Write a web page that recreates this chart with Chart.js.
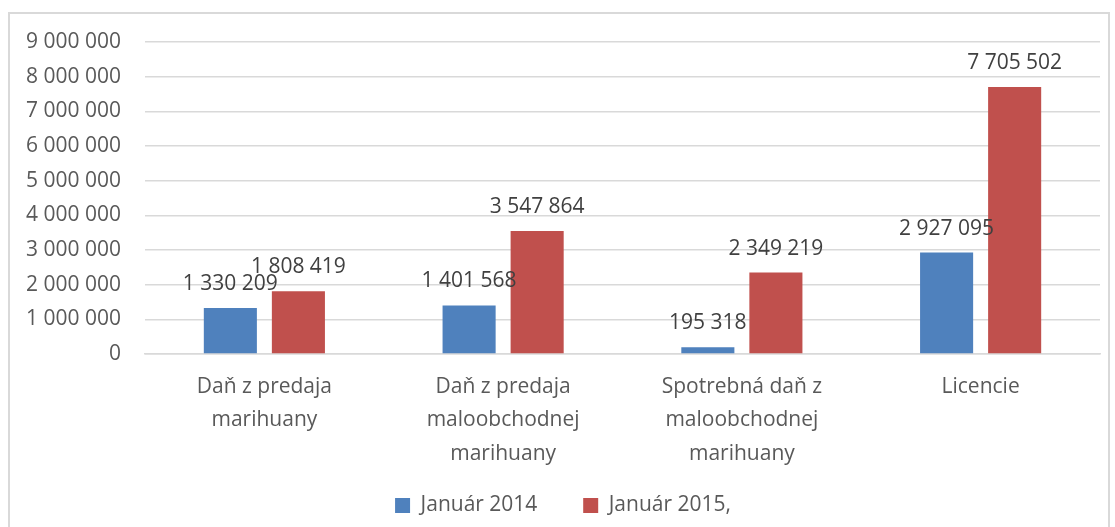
<!DOCTYPE html>
<html>
<head>
<meta charset="utf-8">
<script src="https://cdn.jsdelivr.net/npm/chart.js@4/dist/chart.umd.min.js"></script>
<style>
  body { margin: 0; background: #fff; }
  #frame { position: absolute; left: 8px; top: 12px; width: 1098px; height: 530px; border: 2px solid #d9d9d9; }
  #wrap { position: absolute; left: 0; top: 0; width: 1115px; height: 527px; }
</style>
</head>
<body>
<div id="frame"></div>
<div id="wrap"><canvas id="revenueChart"></canvas></div>
<script>
const categories = [
  ["Daň z predaja", "marihuany"],
  ["Daň z predaja", "maloobchodnej", "marihuany"],
  ["Spotrebná daň z", "maloobchodnej", "marihuany"],
  ["Licencie"]
];
const jan2014 = [1330209, 1401568, 195318, 2927095];
const jan2015 = [1808419, 3547864, 2349219, 7705502];
const seriesNames = ["Január 2014", "Január 2015,"];

const FONT = "'Open Sans', sans-serif";

function spaced(v) {
  return String(v).replace(/\B(?=(\d{3})+(?!\d))/g, " ");
}

// draw the value above each bar
const barLabels = {
  id: "barLabels",
  afterDatasetsDraw(chart) {
    const ctx = chart.ctx;
    ctx.save();
    ctx.font = "21px " + FONT;
    ctx.fillStyle = "#404040";
    ctx.textAlign = "center";
    ctx.textBaseline = "middle";
    chart.data.datasets.forEach(function (ds, i) {
      chart.getDatasetMeta(i).data.forEach(function (bar, j) {
        ctx.fillText(spaced(ds.data[j]), bar.x, bar.y - 24);
      });
    });
    ctx.restore();
  }
};

const ctx = document.getElementById("revenueChart").getContext("2d");
new Chart(ctx, {
  type: "bar",
  data: {
    labels: categories,
    datasets: [
      { label: seriesNames[0], data: jan2014, backgroundColor: "#4f81bd" },
      { label: seriesNames[1], data: jan2015, backgroundColor: "#c0504d" }
    ]
  },
  options: {
    responsive: true,
    maintainAspectRatio: false,
    animation: false,
    datasets: { bar: { barPercentage: 0.78, categoryPercentage: 0.57 } },
    layout: { padding: { top: 42, right: 15, left: 26, bottom: 1 } },
    plugins: {
      tooltip: { enabled: false },
      legend: {
        position: "bottom",
        labels: {
          font: { family: FONT, size: 21 },
          color: "#595959",
          boxWidth: 15,
          boxHeight: 15,
          padding: 24,
          generateLabels: function (chart) {
            const items = Chart.defaults.plugins.legend.labels.generateLabels(chart);
            // widen the gap between the two entries
            items[0].text = items[0].text + "    ";
            return items;
          }
        }
      }
    },
    scales: {
      y: {
        min: 0,
        max: 9000000,
        ticks: {
          stepSize: 1000000,
          padding: 24,
          color: "#595959",
          font: { family: FONT, size: 21 },
          callback: function (v) { return spaced(v); }
        },
        grid: { color: "#d9d9d9", lineWidth: 1.5, drawTicks: false },
        border: { display: false },
        afterFit: function (s) { s.width = 119; }
      },
      x: {
        ticks: {
          padding: 16,
          color: "#595959",
          font: { family: FONT, size: 21, lineHeight: 1.6 },
          maxRotation: 0
        },
        grid: { display: false, drawTicks: false },
        border: { color: "#d9d9d9", width: 1.5 },
        afterFit: function (s) { s.height = 117; }
      }
    }
  },
  plugins: [barLabels]
});
</script>
</body>
</html>
